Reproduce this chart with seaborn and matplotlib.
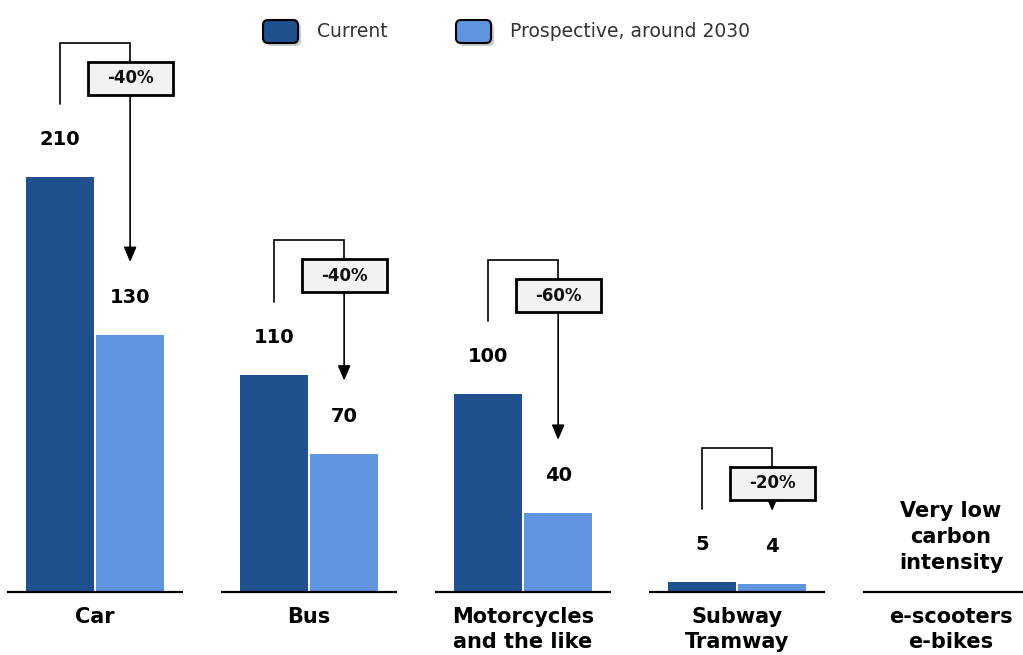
import numpy as np
import pandas as pd
import seaborn as sns
import matplotlib.pyplot as plt
from matplotlib.patches import FancyBboxPatch, Rectangle
from matplotlib.transforms import IdentityTransform

# ---- data -------------------------------------------------------------
categories = ["Car", "Bus", "Motorcycles\nand the like", "Subway\nTramway", "e-scooters\ne-bikes"]
current = [210, 110, 100, 5]
prospective = [130, 70, 40, 4]
reductions = ["-40%", "-40%", "-60%", "-20%"]
series_names = ["Current", "Prospective, around 2030"]
low_carbon_note = "Very low\ncarbon\nintensity"

colors = ["#21508F", "#6194DF"]

W, H, DPI = 1023, 655, 100
sns.set_theme(style="white")
plt.rcParams["font.family"] = ["DejaVu Sans"]

fig = plt.figure(figsize=(W / DPI, H / DPI), dpi=DPI)
ax = fig.add_axes([0, 0, 1, 1])

n_bar = len(current)
df = pd.DataFrame({
    "mode": categories[:n_bar] * 2,
    "series": [series_names[0]] * n_bar + [series_names[1]] * n_bar,
    "value": current + prospective,
})

sns.barplot(data=df, x="mode", y="value", hue="series", order=categories,
            hue_order=series_names, palette=colors, saturation=1,
            width=0.655, gap=0.03, errorbar=None, linewidth=0,
            legend=False, ax=ax)

# scale: 1 data unit ~ 1.976 px, baseline near the bottom
px_per_unit = 1.976
ax.set_xlim(-0.444, 4.336)
ax.set_ylim(-63 / px_per_unit, 592 / px_per_unit)
ax.axis("off")

half = 0.164           # offset of each bar centre from group centre
u = 1 / px_per_unit    # one pixel in value units

# baseline segments under each group
for i in range(len(categories)):
    ax.plot([i - 0.41, i + 0.41], [0, 0], color="black", lw=1.6,
            solid_capstyle="butt", clip_on=False)
    ax.text(i, -15 * u, categories[i], ha="center", va="top",
            fontsize=15, fontweight="bold", linespacing=1.3, color="black")

# value labels
for i in range(n_bar):
    for off, v in ((-half, current[i]), (half, prospective[i])):
        ax.text(i + off, v + 19, f"{v}", ha="center", va="center",
                fontsize=14, fontweight="bold", color="black")

# reduction brackets with arrows and percentage boxes
box_w, box_h = 0.397, 33 * u
for i in range(n_bar):
    xl, xr = i - half, i + half
    top = current[i] + 68
    ax.plot([xl, xl, xr, xr], [current[i] + 37, top, top, top - 18],
            color="black", lw=1.2, solid_joinstyle="miter")
    ax.annotate("", xy=(xr, prospective[i] + 37), xytext=(xr, top - 18),
                arrowprops=dict(arrowstyle="-|>,head_width=0.32,head_length=0.75",
                                color="black", lw=1.2, shrinkA=0, shrinkB=0))
    ax.add_patch(Rectangle((xr - box_w / 2, top - 18 - box_h / 2), box_w, box_h,
                           facecolor="#F2F2F2", edgecolor="black", lw=2, zorder=5))
    ax.text(xr, top - 18, reductions[i], ha="center", va="center",
            fontsize=12, fontweight="bold", color="#111111", zorder=6)

# note over the last group
ax.text(4, (592 - 537) * u, low_carbon_note, ha="center", va="center",
        fontsize=15, fontweight="bold", linespacing=1.4, color="black")

# legend with rounded swatches
ident = IdentityTransform()
for (x0, label), c in zip([(263, series_names[0]), (456, series_names[1])], colors):
    y_top = 20
    shadow = FancyBboxPatch((x0 + 3, H - y_top - 23 - 3), 35, 23,
                            boxstyle="round,pad=0,rounding_size=5",
                            facecolor="#8a8a8a", edgecolor="none", alpha=0.45,
                            transform=ident, zorder=8)
    sw = FancyBboxPatch((x0, H - y_top - 23), 35, 23,
                        boxstyle="round,pad=0,rounding_size=5",
                        facecolor=c, edgecolor="black", lw=1.5,
                        transform=ident, zorder=9)
    fig.patches.extend([shadow, sw])
    fig.text((x0 + 54) / W, 1 - (y_top + 11.5) / H, label, ha="left", va="center",
             fontsize=13.5, color="#333333")

fig.savefig("out.png", dpi=DPI)
